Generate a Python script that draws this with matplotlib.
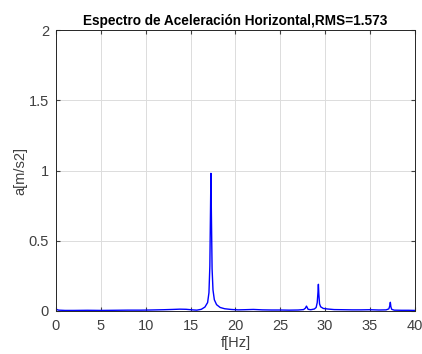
import matplotlib
matplotlib.use('Agg')
import matplotlib.pyplot as plt

# spectrum points
freq = [0.0, 0.3, 1.0, 2.0, 3.5, 5.0, 6.5, 8.0, 9.5, 10.5, 12.0, 13.0, 13.8, 14.5, 15.2, 15.7,
        16.2, 16.6, 16.9, 17.05, 17.15, 17.22, 17.27, 17.32, 17.4, 17.5, 17.65, 17.9, 18.3,
        18.8, 19.5, 20.3, 21.0, 22.0, 23.0, 24.0, 25.0, 26.0, 27.0, 27.6, 27.8, 27.92,
        28.0, 28.1, 28.4, 28.8, 29.0, 29.12, 29.2, 29.25, 29.3, 29.38, 29.5, 29.8, 30.3,
        31.0, 32.0, 33.0, 34.0, 35.0, 36.0, 36.8, 37.1, 37.2, 37.27, 37.33, 37.42, 37.7,
        38.5, 39.3, 40.0]
amp = [0.012, 0.006, 0.004, 0.004, 0.005, 0.004, 0.005, 0.006, 0.006, 0.007, 0.009, 0.011, 0.013, 0.012, 0.008, 0.006,
       0.012, 0.028, 0.06, 0.13, 0.32, 0.70, 0.98, 0.70, 0.30, 0.15, 0.08, 0.045, 0.025,
       0.016, 0.011, 0.008, 0.009, 0.011, 0.008, 0.007, 0.007, 0.006, 0.007, 0.010, 0.020, 0.035,
       0.025, 0.012, 0.009, 0.014, 0.025, 0.06, 0.13, 0.19, 0.12, 0.05, 0.03, 0.018, 0.014,
       0.010, 0.009, 0.008, 0.008, 0.009, 0.007, 0.008, 0.015, 0.035, 0.062, 0.03, 0.012, 0.006,
       0.005, 0.005, 0.004]

xticks = [0, 5, 10, 15, 20, 25, 30, 35, 40]
yticks = [0, 0.5, 1, 1.5, 2]
ylabels = ['0', '0.5', '1', '1.5', '2']

plt.rcParams['font.family'] = ['Liberation Sans', 'DejaVu Sans']

fig = plt.figure(figsize=(4.22, 3.54), dpi=100)
ax = fig.add_axes([0.1327, 0.1215, 0.8503, 0.7935])
ax.plot(freq, amp, color='#0000ff', lw=1.0)
ax.set_xlim(0, 40)
ax.set_ylim(0, 2)
ax.set_xticks(xticks)
ax.set_yticks(yticks)
ax.set_yticklabels(ylabels)
ax.grid(True, color='#dcdcdc', lw=0.7)
ax.set_axisbelow(True)
ax.tick_params(direction='in', length=3, labelsize=10.5, colors='#404040', top=True, right=True,
               labeltop=False, labelright=False)
ax.tick_params(axis='x', pad=6)
ax.tick_params(axis='y', pad=5)
for s in ax.spines.values():
    s.set_color('#262626')
    s.set_linewidth(0.7)
ax.set_xlabel('f[Hz]', fontsize=10.5, color='#404040')
ax.set_ylabel('a[m/s2]', fontsize=10.5, color='#404040')
ax.xaxis.set_label_coords(0.5, -0.088)
ax.yaxis.set_label_coords(-0.079, 0.5)
ax.set_title('Espectro de Aceleración Horizontal,RMS=1.573', fontsize=9.8, fontweight='bold', pad=4)

fig.savefig('out.png', dpi=100)
